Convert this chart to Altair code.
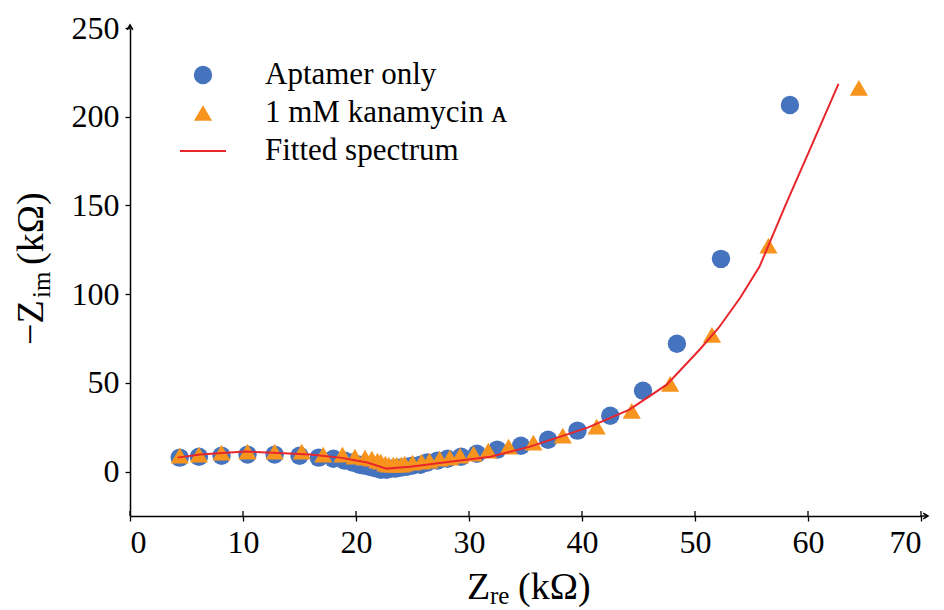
import altair as alt
import pandas as pd

# ---------------- data ----------------
apt_x = [4.4, 6.1, 8.1, 10.4, 12.8, 15.0, 16.7, 18.0, 19.0, 19.7, 20.3, 20.7, 21.2, 21.5,
         21.9, 22.2, 22.7, 23.1, 23.5, 24.0, 24.5, 25.0, 25.7, 26.3, 27.2, 28.1, 29.3, 30.7,
         32.5, 34.6, 37.0, 39.6, 42.5, 45.4, 48.4, 52.3, 58.4]
apt_y = [7.9, 8.4, 9.0, 9.6, 9.6, 9.0, 7.9, 7.3, 6.2, 5.1, 3.9, 3.4, 2.8, 2.3,
         1.7, 1.1, 1.1, 1.7, 1.7, 2.3, 2.8, 3.4, 3.9, 5.1, 6.2, 7.3, 8.4, 10.1,
         12.4, 14.6, 18.0, 23.1, 31.5, 45.6, 72.1, 119.9, 206.6]

kan_x = [4.4, 6.1, 8.1, 10.4, 12.8, 15.2, 17.1, 18.8, 19.9, 20.8, 21.4, 21.9, 22.2, 22.6,
         22.9, 23.3, 23.6, 24.0, 24.3, 25.0, 25.8, 26.5, 27.4, 28.3, 29.2, 30.4, 31.7, 33.5,
         35.7, 38.3, 41.3, 44.4, 47.8, 51.5, 56.5, 64.5]
kan_y = [9.0, 9.6, 10.7, 11.3, 11.3, 11.3, 9.6, 9.6, 8.4, 7.9, 7.3, 6.2, 5.6, 4.5,
         3.9, 3.9, 3.9, 3.9, 4.5, 5.1, 5.6, 6.2, 7.3, 7.9, 9.0, 10.1, 11.8, 14.1,
         16.3, 20.3, 25.3, 34.3, 49.5, 77.1, 127.3, 216.2]

fit_x = [4.2, 6.2, 10.2, 12.7, 15.9, 18.6, 21.0, 22.7, 24.8, 28.3, 31.9, 35.4, 40.5,
         44.2, 47.5, 50.4, 52.1, 54.0, 55.7, 58.0, 60.2, 62.7]
fit_y = [7.9, 9.6, 11.3, 10.7, 9.6, 7.9, 5.1, 1.7, 2.8, 5.6, 8.4, 14.1, 24.8,
         34.9, 49.0, 68.7, 81.1, 98.0, 115.4, 150.0, 182.0, 218.5]

x_ticks = [0, 10, 20, 30, 40, 50, 60, 70]
y_ticks = [0, 50, 100, 150, 200, 250]

legend_labels = ["Aptamer only", "1 mM kanamycin \u1d00", "Fitted spectrum"]

# ---------------- style ----------------
FONT = "Liberation Serif, DejaVu Serif"
BLUE = "#4673BE"
ORANGE = "#F7941E"
RED = "#E8262B"
W, H = 791, 488

apt = pd.DataFrame({"x": apt_x, "y": apt_y})
kan = pd.DataFrame({"x": kan_x, "y": kan_y})
fit = pd.DataFrame({"x": fit_x, "y": fit_y, "i": list(range(len(fit_x)))})
ticks_df = pd.DataFrame({"x": x_ticks})

xscale = alt.Scale(domain=[0, 70], nice=False, zero=False)
yscale = alt.Scale(domain=[-25, 250], nice=False, zero=False)

xaxis = alt.Axis(values=x_ticks, title=None, grid=False, domainColor="black", domainWidth=1.5,
                 tickColor="black", tickSize=5, tickWidth=1.3, labelFont=FONT, labelFontSize=32,
                 labelColor="black", labelPadding=6, format="d")
yaxis = alt.Axis(values=y_ticks, title=None, grid=False, domainColor="black", domainWidth=1.5,
                 tickColor="black", tickSize=5, tickWidth=1.3, labelFont=FONT, labelFontSize=32,
                 labelColor="black", labelPadding=6, format="d")

X = alt.X("x:Q", scale=xscale, axis=xaxis)
Y = alt.Y("y:Q", scale=yscale, axis=yaxis)

blue = alt.Chart(apt).mark_point(shape="circle", filled=True, size=340, opacity=1,
                                 color=BLUE, strokeWidth=0).encode(x=X, y=Y)
orange = alt.Chart(kan).mark_point(shape="triangle-up", filled=True, size=330, opacity=1,
                                   color=ORANGE, strokeWidth=0).encode(x=X, y=Y)
line = alt.Chart(fit).mark_line(color=RED, strokeWidth=2).encode(x=X, y=Y, order="i:Q")

# inner halves of the x ticks (ticks cross the axis in the reference)
inner_ticks = alt.Chart(ticks_df).mark_rule(color="black", strokeWidth=1.3).encode(
    x=X, y=alt.value(H - 5), y2=alt.value(H))

# axis arrows (extensions of the axis lines)
one = pd.DataFrame({"a": [0]})
xext = alt.Chart(one).mark_rule(color="black", strokeWidth=1.5).encode(
    x=alt.value(W), x2=alt.value(W + 7), y=alt.value(H))
yext = alt.Chart(one).mark_rule(color="black", strokeWidth=1.5).encode(
    y=alt.value(0), y2=alt.value(-3), x=alt.value(0))
xarrow = alt.Chart(one).mark_point(shape="M-1,-0.6L0,0L-1,0.6", filled=False, size=90,
                                   color="black", strokeWidth=1.5, opacity=1).encode(
    x=alt.value(W + 7), y=alt.value(H))
yarrow = alt.Chart(one).mark_point(shape="M-0.6,1L0,0L0.6,1", filled=False, size=90,
                                   color="black", strokeWidth=1.5, opacity=1).encode(
    x=alt.value(0), y=alt.value(-3))

# legend
leg_circle = alt.Chart(one).mark_point(shape="circle", filled=True, size=340, opacity=1,
                                       color=BLUE, strokeWidth=0).encode(
    x=alt.value(73), y=alt.value(47))
leg_tri = alt.Chart(one).mark_point(shape="triangle-up", filled=True, size=330, opacity=1,
                                    color=ORANGE, strokeWidth=0).encode(
    x=alt.value(73), y=alt.value(85))
leg_line = alt.Chart(one).mark_rule(color=RED, strokeWidth=2).encode(
    x=alt.value(50), x2=alt.value(96), y=alt.value(123))
leg_texts = [alt.Chart(pd.DataFrame({"t": [t]})).mark_text(
    font=FONT, fontSize=31, align="left", baseline="middle", color="black").encode(
    x=alt.value(135), y=alt.value(py), text="t:N") for t, py in zip(legend_labels, [47, 85, 123])]

# axis titles with subscripts
def txt(s, px, py, size, angle=0):
    m = alt.Chart(pd.DataFrame({"t": [s]})).mark_text(
        font=FONT, fontSize=size, align="left", baseline="alphabetic", color="black",
        **({"angle": angle} if angle else {}))
    return m.encode(x=alt.value(px), y=alt.value(py), text="t:N")

xt = [txt("Z", 337, 571, 38), txt("re", 360, 576, 25), txt("(k\u03a9)", 388, 571, 38)]
yt = [txt("\u2212Z", -87, 317, 38, 270), txt("im", -80, 270, 25, 270),
      txt("(k\u03a9)", -87, 237, 38, 270)]

chart = alt.layer(blue, orange, line, inner_ticks, xext, yext, xarrow, yarrow,
                  leg_circle, leg_tri, leg_line, *leg_texts, *xt, *yt).properties(
    width=W, height=H,
    autosize=alt.AutoSizeParams(type="none"),
    padding={"left": 122, "top": 20, "right": 14, "bottom": 94},
    view=alt.ViewBackground(stroke="transparent", strokeOpacity=0, strokeWidth=0),
).configure_view(strokeWidth=0, stroke="transparent", strokeOpacity=0).configure(background="white")

chart.save("out.html", embed_options={"renderer": "svg", "actions": False})
